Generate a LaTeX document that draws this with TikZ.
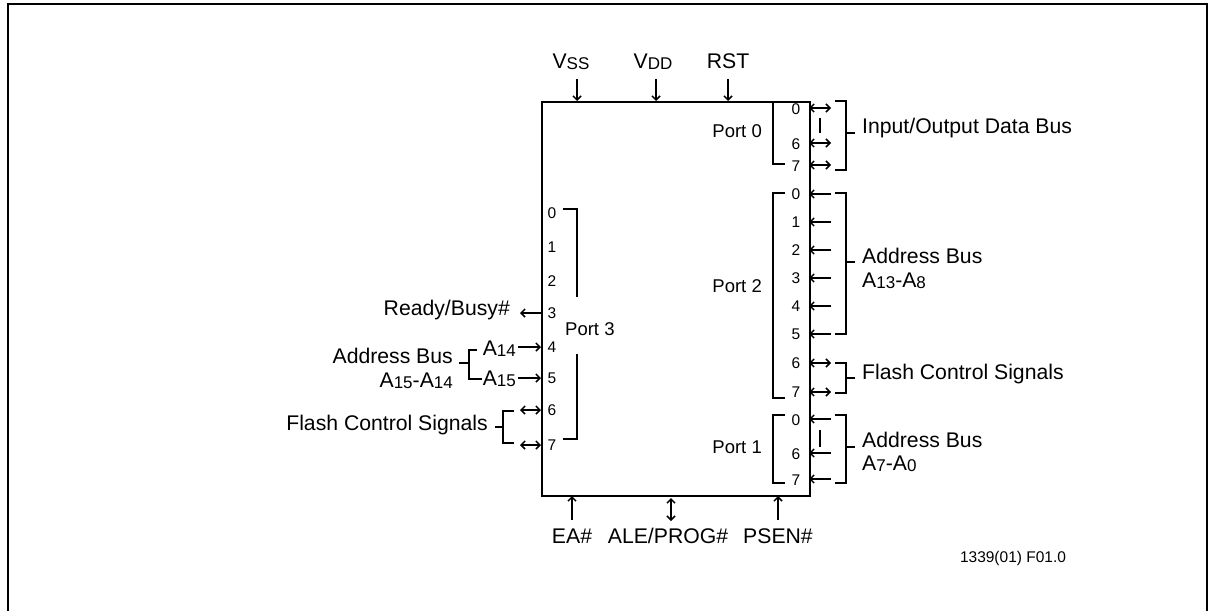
\documentclass[tikz,border=0pt]{standalone}
\usepackage{fontspec}
\setmainfont{Liberation Sans}
\usetikzlibrary{arrows.meta}
\newcommand\lsub[1]{\raisebox{-1.7pt}{\fontsize{17}{17}\selectfont #1}}
\begin{document}
\begin{tikzpicture}[x=1pt,y=-1pt,
 big/.style={font=\fontsize{21.2}{25}\selectfont, inner sep=0pt},
 pinno/.style={font=\fontsize{15.5}{18}\selectfont, inner sep=0pt},
 portlbl/.style={font=\fontsize{18.5}{21}\selectfont, inner sep=0pt},
 note/.style={font=\fontsize{15.5}{18}\selectfont, inner sep=0pt},
 frame/.style={draw, line width=1.8pt},
 ln/.style={line width=1.5pt},
 tip/.style={ln, -{Straight Barb[length=4pt,width=8pt]}},
 dtip/.style={ln, {Straight Barb[length=4pt,width=8pt]}-{Straight Barb[length=4pt,width=8pt]}},
]
\useasboundingbox (0,0) rectangle (1213,611);
\draw[frame] (8,611) -- (8,4) -- (1207,4) -- (1207,611);

% chip
\node[frame, minimum width=268pt, minimum height=394pt, anchor=north west, inner sep=0pt] (chip) at (541,101) {};

% top pins
\node[big, anchor=base] (vss) at (571,68) {V\lsub{SS}};
\node[big, anchor=base] (vdd) at (653,68) {V\lsub{DD}};
\node[big, anchor=base] (rst) at (728,68) {RST};
\foreach \n/\x in {vss/577, vdd/656, rst/728}{
  \coordinate (\n a) at (\x,79);
  \coordinate (\n b) at (\x,101);
  \draw[tip] (\n a) -- (\n b);
}

% bottom pins
\node[big, anchor=base] (ea) at (572,543) {EA\#};
\node[big, anchor=base] (ale) at (668,543) {ALE/PROG\#};
\node[big, anchor=base] (psen) at (778,543) {PSEN\#};
\coordinate (eaa) at (572,520); \coordinate (eab) at (572,496);
\coordinate (alea) at (671,521); \coordinate (aleb) at (671,498);
\coordinate (psena) at (778,520); \coordinate (psenb) at (778,496);
\draw[tip] (eaa) -- (eab);
\draw[dtip] (alea) -- (aleb);
\draw[tip] (psena) -- (psenb);

% ---------- Port 0 ----------
\node[portlbl, anchor=east] (port0) at (762,131) {Port 0};
\foreach \d/\y in {0/108,6/143,7/165}{
  \node[pinno] (p0d\d) at (796,\y+1) {\d};
  \coordinate (p0i\d) at (809,\y);
  \coordinate (p0o\d) at (831,\y);
  \draw[dtip] (p0o\d) -- (p0i\d);
}
\coordinate (p0va) at (820,118); \coordinate (p0vb) at (820,133);
\draw[ln] (p0va) -- (p0vb);
\draw[ln] (785,102) -- (773,102) -- (773,164) -- (785,164);
\draw[ln] (835,101) -- (846,101) -- (846,170) -- (835,170);
\coordinate (io) at (846,133);
\node[big, anchor=base west] (iolbl) at (862,133) {Input/Output Data Bus};
\draw[ln] (io) -- (855,133);

% ---------- Port 2 ----------
\node[portlbl, anchor=east] (port2) at (762,286) {Port 2};
\foreach \d/\y in {0/194,1/222,2/250,3/278,4/306,5/334,6/363,7/392}{
  \node[pinno] (p2d\d) at (796,\y) {\d};
  \coordinate (p2i\d) at (809,\y);
  \coordinate (p2o\d) at (831,\y);
}
\foreach \d in {0,...,5}{\draw[tip] (p2o\d) -- (p2i\d);}
\foreach \d in {6,7}{\draw[dtip] (p2o\d) -- (p2i\d);}
\draw[ln] (785,193) -- (773,193) -- (773,398) -- (785,398);
\draw[ln] (835,193) -- (846,193) -- (846,334) -- (835,334);
\draw[ln] (846,262) -- (855,262);
\node[big, anchor=base west, align=left] (ab2) at (862,263) {Address Bus};
\node[big, anchor=base west] (ab2b) at (862,287) {A\lsub{13}-A\lsub{8}};
\draw[ln] (835,363) -- (846,363) -- (846,393) -- (835,393);
\draw[ln] (846,378) -- (855,378);
\node[big, anchor=base west] (fc2) at (862,379) {Flash Control Signals};

% ---------- Port 1 ----------
\node[portlbl, anchor=east] (port1) at (762,447) {Port 1};
\foreach \d/\y in {0/419,6/453,7/479}{
  \node[pinno] (p1d\d) at (796,\y+1) {\d};
  \coordinate (p1i\d) at (809,\y);
  \coordinate (p1o\d) at (831,\y);
  \draw[tip] (p1o\d) -- (p1i\d);
}
\coordinate (p1va) at (820,430); \coordinate (p1vb) at (820,447);
\draw[ln] (p1va) -- (p1vb);
\draw[ln] (785,415) -- (773,415) -- (773,483) -- (785,483);
\draw[ln] (835,415) -- (846,415) -- (846,483) -- (835,483);
\draw[ln] (846,447) -- (855,447);
\node[big, anchor=base west] (ab1) at (862,447) {Address Bus};
\node[big, anchor=base west] (ab1b) at (862,470) {A\lsub{7}-A\lsub{0}};

% ---------- Port 3 ----------
\node[portlbl, anchor=base west] (port3) at (565,335) {Port 3};
\foreach \d/\y in {0/213,1/247,2/281,3/313,4/347,5/378,6/410,7/445}{
  \node[pinno] (p3d\d) at (552,\y) {\d};
  \coordinate (p3i\d) at (541,\y);
}
\draw[ln] (563,209) -- (577,209) -- (577,297);
\draw[ln] (577,354) -- (577,439) -- (563,439);

% Ready/Busy#
\coordinate (rbo) at (520,313);
\draw[tip] (p3i3) -- (rbo);
\node[big, anchor=base east] (rb) at (510,315) {Ready/Busy\#};

% A14 / A15
\node[big, anchor=base east] (a14) at (516,355) {A\lsub{14}};
\node[big, anchor=base east] (a15) at (516,385) {A\lsub{15}};
\coordinate (a14o) at (518,347); \coordinate (a15o) at (518,378);
\draw[tip] (a14o) -- (p3i4);
\draw[tip] (a15o) -- (p3i5);
\draw[ln] (477,350) -- (469,350) -- (469,379) -- (482,379);
\draw[ln] (459,363) -- (469,363);
\node[big, anchor=base east] (abl) at (453,363) {Address Bus};
\node[big, anchor=base east] (ablb) at (453,387) {A\lsub{15}-A\lsub{14}};

% Flash control left
\coordinate (f6o) at (520,410); \coordinate (f7o) at (520,445);
\draw[dtip] (f6o) -- (p3i6);
\draw[dtip] (f7o) -- (p3i7);
\draw[ln] (514,411) -- (503,411) -- (503,443) -- (514,443);
\draw[ln] (495,427) -- (503,427);
\node[big, anchor=base east] (fcl) at (488,430) {Flash Control Signals};

% figure id
\node[note, anchor=base] (fid) at (1013,562) {1339(01) F01.0};
\end{tikzpicture}
\end{document}
